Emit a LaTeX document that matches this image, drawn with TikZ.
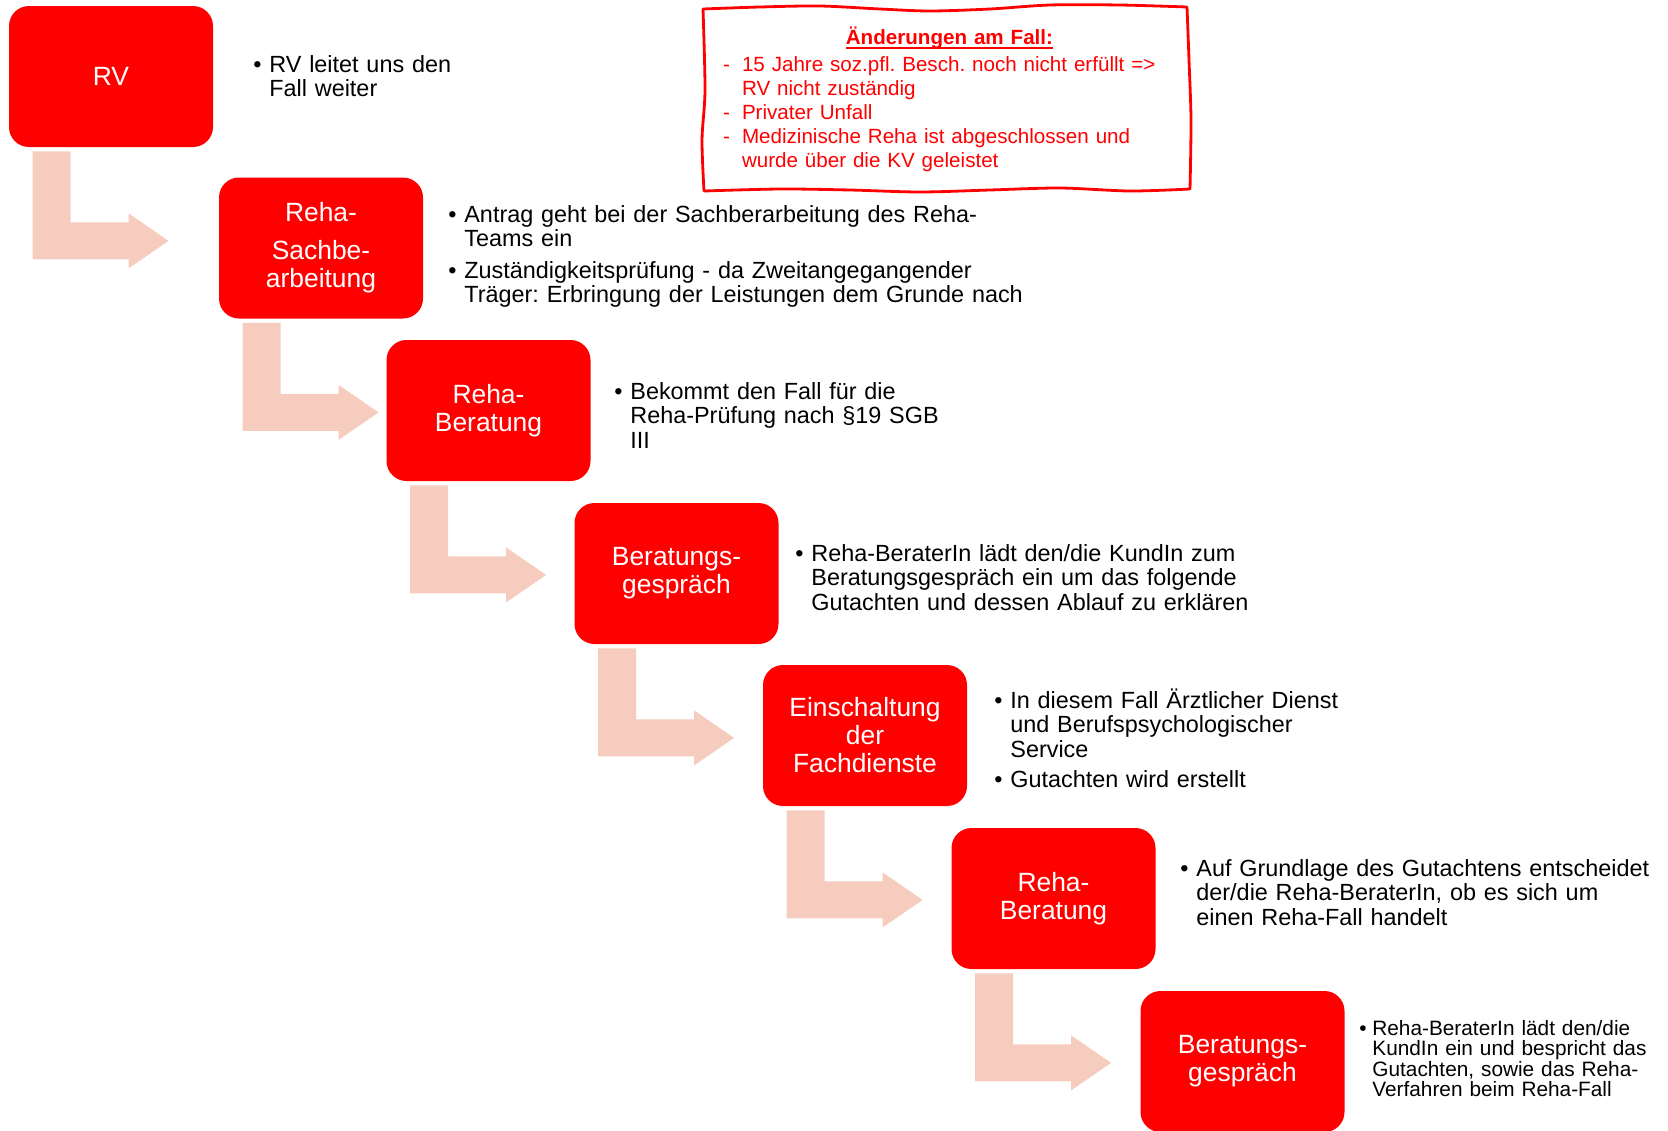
\documentclass[tikz,border=0pt]{standalone}
\usepackage{fontspec}
\setmainfont{Liberation Sans}
\usetikzlibrary{calc}
\definecolor{boxrot}{RGB}{255,0,0}
\definecolor{pfeilrosa}{RGB}{246,204,191}
\frenchspacing
\newlength{\punktbreite}
\setlength{\punktbreite}{8pt}
\newcommand{\punkt}[1]{
    \par\noindent\hangindent=\punktbreite\hangafter=1\makebox[\punktbreite][l]{\textbullet}#1\par
}
\newcommand{\strich}[1]{
    \par\noindent\hangindent=9.5pt\hangafter=1\makebox[9.5pt][l]{-}#1\par
}
\newcommand{\unterstrich}[1]{
    \setbox0\hbox{#1}\rlap{\rule[-2.2pt]{\wd0}{0.8pt}}\box0\ignorespaces
}
\tikzset{
    schritt/.style={fill=boxrot, rounded corners=10pt, minimum width=102pt, minimum height=70.5pt,
        inner sep=0pt, text=white, align=center, font=\fontsize{13.2}{14}\selectfont},
    beschr/.style={anchor=north west, inner sep=0pt, text width=300pt, align=left,
        font=\fontsize{11.7}{12.25}\selectfont},
    pfeil/.style={fill=pfeilrosa},
    rahmen/.style={draw=boxrot, line width=1.4pt, line join=round}
}

\begin{document}
\begin{tikzpicture}[x=0.5pt, y=-0.5pt]
    \useasboundingbox (0,0) rectangle (1668,1130);

    % Schritte
    \node[schritt] (rv) at (111,76.5) {RV};
    \node[schritt] (sachb) at (321,248) {Reha-\\[5pt]Sachbe-\\arbeitung};
    \node[schritt] (beratung) at (488.5,410.5) {Reha-\\Beratung};
    \node[schritt] (gespraech) at (676.5,573.5) {Beratungs-\\gespräch};
    \node[schritt] (fach) at (865,735.5) {Einschaltung\\der\\Fachdienste};
    \node[schritt] (beratungb) at (1053.5,898.5) {Reha-\\Beratung};
    \node[schritt] (gespraechb) at (1242.5,1061.5) {Beratungs-\\gespräch};

    % Pfeile zum naechsten Schritt
    \foreach \von in {rv,sachb,beratung,gespraech,fach,beratungb}{
        \fill[pfeil] ($(\von.south west)+(24,4)$) -- ++(38,0) -- ++(0,71) -- ++(58,0) -- ++(0,-9)
            -- ++(40,27.5) -- ++(-40,27.5) -- ++(0,-9) -- ++(-96,0) -- cycle;
    }

    % Beschreibungen
    \node[beschr] (rvtext) at (253,47.5) {\punkt{RV leitet uns den\newline Fall weiter}};
    \node[beschr] (sachbtext) at (448,190.5) {\setlength{\parskip}{3.5pt}
        \punkt{Antrag geht bei der Sachberarbeitung des Reha-\newline Teams ein}
        \punkt{Zuständigkeitsprüfung - da Zweitangegangender\newline Träger: Erbringung der Leistungen dem Grunde nach}};
    \node[beschr] (beratungtext) at (614,374.5) {\punkt{Bekommt den Fall für die\newline Reha-Prüfung nach §19 SGB\newline III}};
    \node[beschr] (gespraechtext) at (795,536.5) {\punkt{Reha-BeraterIn lädt den/die KundIn zum\newline Beratungsgespräch ein um das folgende\newline Gutachten und dessen Ablauf zu erklären}};
    \node[beschr] (fachtext) at (994,677.5) {\setlength{\parskip}{3pt}
        \punkt{In diesem Fall Ärztlicher Dienst\newline und Berufspsychologischer\newline Service}
        \punkt{Gutachten wird erstellt}};
    \node[beschr] (beratungbtext) at (1180,851.5) {\punkt{Auf Grundlage des Gutachtens entscheidet\newline der/die Reha-BeraterIn, ob es sich um\newline einen Reha-Fall handelt}};
    \node[beschr, font=\fontsize{10.4}{10.2}\selectfont] (gespraechbtext) at (1359,1014.6) {\setlength{\punktbreite}{6.5pt}
        \punkt{Reha-BeraterIn lädt den/die\newline KundIn ein und bespricht das\newline Gutachten, sowie das Reha-\newline Verfahren beim Reha-Fall}};

    % Aenderungen am Fall
    \node[minimum height=92.5pt, text width=223pt, inner xsep=10.5pt, align=left, text=boxrot,
        font=\fontsize{10.3}{12}\selectfont] (aenderung) at (946,99.5) {
        {\centering\bfseries\unterstrich{Änderungen am Fall:}\par}
        \vspace{1.5pt}
        \strich{15 Jahre soz.pfl. Besch. noch nicht erfüllt =>\newline RV nicht zuständig}
        \strich{Privater Unfall}
        \strich{Medizinische Reha ist abgeschlossen und\newline wurde über die KV geleistet}
    };
    % handgezeichneter Rahmen
    \draw[rahmen] plot[smooth] coordinates {(703,9) (760,7) (820,6) (880,9) (930,11) (990,9) (1050,5) (1120,5) (1187,7)}
        -- plot[smooth] coordinates {(1187,7) (1189,60) (1191,120) (1190,189)}
        -- plot[smooth] coordinates {(1190,189) (1130,191) (1060,188) (990,190) (920,192) (850,190) (780,189) (704,191)}
        -- plot[smooth] coordinates {(704,191) (702,140) (705,90) (703,9)} -- cycle;
\end{tikzpicture}
\end{document}
